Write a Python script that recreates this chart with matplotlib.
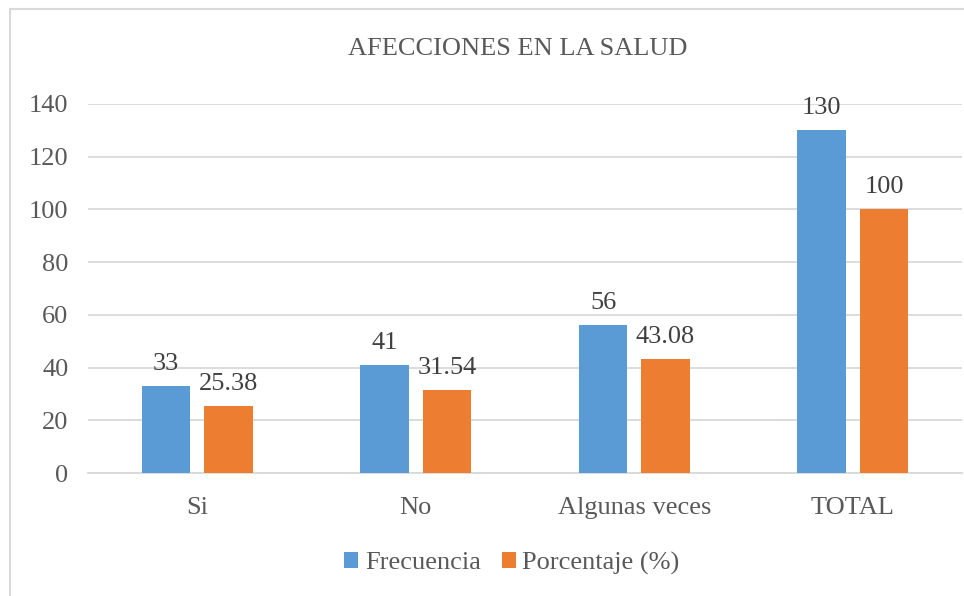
import numpy as np
import matplotlib.pyplot as plt
from matplotlib.patches import Rectangle

categorias = ['Si', 'No', 'Algunas veces', 'TOTAL']
frecuencia = [33, 41, 56, 130]
porcentaje = [25.38, 31.54, 43.08, 100]
etiquetas_frec = ['33', '41', '56', '130']
etiquetas_porc = ['25.38', '31.54', '43.08', '100']

plt.rcParams['font.family'] = ['Liberation Serif', 'DejaVu Serif']
gris = '#595959'

fig = plt.figure(figsize=(9.64, 5.96), dpi=100)
ax = fig.add_axes([88 / 964, 1 - 473 / 596, 874 / 964, 369 / 596])

# marco gris alrededor del grafico
fig.patches.append(Rectangle((10 / 964, -0.05), 1.0, 1 - 9 / 596 + 0.05,
                             transform=fig.transFigure, fill=False,
                             edgecolor='#D9D9D9', linewidth=1.5))

x = np.arange(len(categorias))
ancho = 0.224
b1 = ax.bar(x - 0.143, frecuencia, ancho, color='#5B9BD5', label='Frecuencia', zorder=3)
b2 = ax.bar(x + 0.143, porcentaje, ancho, color='#ED7D31', label='Porcentaje (%)', zorder=3)

ax.bar_label(b1, labels=etiquetas_frec, padding=8, fontsize=19, color='#404040')
ax.bar_label(b2, labels=etiquetas_porc, padding=8, fontsize=19, color='#404040')

ax.set_xlim(-0.5, 3.5)
ax.set_ylim(0, 140)
ax.set_yticks(range(0, 141, 20))
ax.set_xticks(x)
ax.set_xticklabels(categorias)
ax.tick_params(axis='both', length=0, labelsize=19, colors=gris)
ax.tick_params(axis='y', pad=14)
ax.tick_params(axis='x', pad=17)
ax.yaxis.grid(True, color='#D9D9D9', linewidth=1.3, zorder=0)
for s in ['top', 'right', 'left']:
    ax.spines[s].set_visible(False)
ax.spines['bottom'].set_color('#D9D9D9')
ax.spines['bottom'].set_linewidth(1.3)

fig.text(518 / 964, 1 - 49 / 596, 'AFECCIONES EN LA SALUD', ha='center', va='center',
         fontsize=19, color=gris)

fig.legend(loc='center', bbox_to_anchor=(512 / 964, 1 - 563 / 596), ncol=2,
           frameon=False, fontsize=19, handlelength=0.53, handleheight=0.53,
           handletextpad=0.25, columnspacing=0.8, labelcolor=gris)

fig.savefig('out.png', dpi=100)
